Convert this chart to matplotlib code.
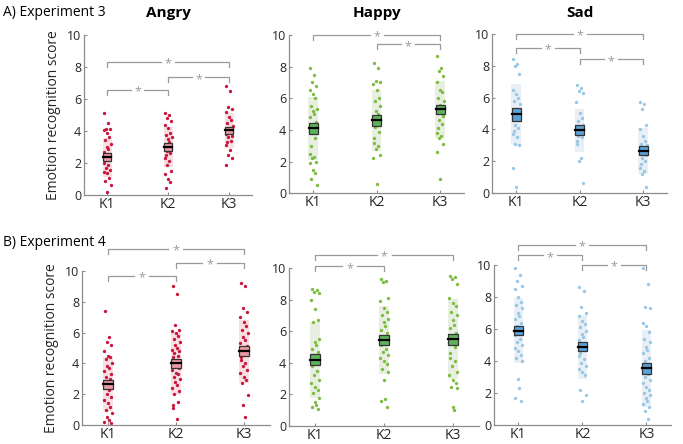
import numpy as np
import matplotlib
matplotlib.use("Agg")
import matplotlib.pyplot as plt
from matplotlib.patches import Rectangle

plt.rcParams['font.family'] = ['Open Sans', 'DejaVu Sans']

groups = ['K1', 'K2', 'K3']
emotions = ['Angry', 'Happy', 'Sad']
row_labels = ['A) Experiment 3', 'B) Experiment 4']

# ---- individual scores ----
exp3_angry_k1 = [5.1, 4.5, 4.15, 4.1, 4.05, 3.85, 3.65, 3.45, 3.2, 3.0, 2.9, 2.7, 2.55, 2.4,
                 2.3, 2.2, 2.0, 1.9, 1.7, 1.55, 1.45, 1.35, 1.05, 0.85, 0.6, 0.2]
exp3_angry_k2 = [5.15, 5.0, 4.8, 4.6, 4.4, 4.2, 3.9, 3.75, 3.6, 3.5, 3.3, 3.1, 2.9, 2.75,
                 2.6, 2.5, 2.3, 2.1, 1.9, 1.5, 1.3, 1.0, 0.8, 0.45]
exp3_angry_k3 = [6.8, 6.5, 5.5, 5.4, 5.2, 4.9, 4.7, 4.5, 4.3, 4.2, 4.0, 3.8, 3.7, 3.6,
                 3.4, 3.3, 3.1, 2.8, 2.5, 2.3, 1.9]
exp3_happy_k1 = [7.9, 7.5, 7.0, 6.8, 6.5, 6.3, 6.0, 5.5, 5.3, 5.2, 5.0, 4.8, 4.5, 4.2,
                 3.5, 3.0, 2.5, 2.3, 2.2, 2.0, 1.9, 1.5, 1.3, 0.9, 0.5]
exp3_happy_k2 = [8.2, 7.9, 7.1, 7.0, 6.9, 6.5, 6.0, 5.8, 5.5, 5.2, 5.0, 4.7, 4.5, 4.2,
                 3.9, 3.5, 3.2, 3.0, 2.8, 2.4, 2.2, 0.6]
exp3_happy_k3 = [8.7, 7.9, 7.7, 7.4, 7.0, 6.5, 6.4, 6.0, 5.8, 5.6, 5.4, 5.1, 4.9, 4.6,
                 4.4, 4.1, 3.8, 3.6, 3.5, 3.1, 2.6, 0.9]
exp3_sad_k1 = [8.4, 8.1, 8.0, 7.5, 6.5, 6.2, 6.0, 5.8, 5.6, 5.3, 5.0, 4.8, 4.6, 4.3,
               4.1, 3.9, 3.7, 3.5, 3.1, 3.0, 1.6, 0.4]
exp3_sad_k2 = [6.8, 6.6, 6.4, 6.3, 5.7, 5.0, 4.7, 4.5, 4.3, 4.1, 4.0, 3.8, 3.7, 3.6,
               3.5, 3.3, 3.1, 2.2, 2.0, 0.6]
exp3_sad_k3 = [5.7, 5.6, 5.3, 4.3, 4.0, 3.6, 3.3, 3.1, 3.0, 2.9, 2.7, 2.5, 2.4, 2.2,
               2.0, 1.8, 1.6, 1.4, 1.2, 0.4]

exp4_angry_k1 = [7.4, 5.7, 5.4, 5.2, 4.8, 4.5, 4.4, 4.3, 4.0, 3.8, 3.7, 3.5, 3.3, 3.1,
                 3.0, 2.8, 2.5, 2.3, 2.0, 1.8, 1.6, 1.4, 1.2, 1.0, 0.8, 0.5, 0.3, 0.2, 0.1]
exp4_angry_k2 = [9.0, 8.5, 6.5, 6.2, 6.1, 6.0, 5.8, 5.6, 5.4, 5.2, 5.0, 4.9, 4.8, 4.7,
                 4.5, 4.4, 4.2, 4.1, 3.9, 3.7, 3.6, 3.4, 3.3, 3.1, 3.0, 2.8, 2.6, 2.4,
                 2.2, 2.0, 1.5, 1.3, 1.1, 0.4]
exp4_angry_k3 = [9.2, 9.0, 7.6, 7.35, 7.0, 6.7, 6.4, 6.2, 6.0, 5.7, 5.5, 5.3, 5.1, 4.9,
                 4.7, 4.4, 4.2, 4.0, 3.8, 3.6, 3.4, 3.1, 2.9, 2.7, 1.95, 1.3, 0.55]
exp4_happy_k1 = [8.7, 8.6, 8.5, 8.4, 8.0, 7.4, 6.7, 6.6, 5.5, 5.3, 5.1, 4.9, 4.7, 4.5,
                 4.3, 4.0, 3.8, 3.5, 3.2, 2.9, 2.7, 2.5, 2.3, 2.1, 1.8, 1.5, 1.3, 1.2, 1.1]
exp4_happy_k2 = [9.3, 9.2, 9.1, 8.1, 7.9, 7.5, 7.2, 7.0, 6.8, 6.6, 6.3, 6.1, 5.9, 5.7,
                 5.5, 5.3, 5.1, 4.9, 4.7, 4.5, 4.3, 4.1, 3.9, 3.6, 3.4, 2.9, 1.7, 1.6, 1.2]
exp4_happy_k3 = [9.5, 9.4, 9.3, 9.0, 8.1, 7.8, 7.6, 7.2, 7.0, 6.7, 6.4, 6.2, 5.9, 5.4,
                 5.0, 4.6, 4.3, 4.1, 3.8, 3.4, 3.2, 2.9, 2.7, 2.5, 2.4, 1.2, 1.0]
exp4_sad_k1 = [9.8, 9.4, 9.0, 8.7, 8.5, 8.0, 7.7, 7.5, 7.3, 7.0, 6.8, 6.6, 6.4, 6.2,
               6.0, 5.8, 5.6, 5.4, 5.2, 5.0, 4.8, 4.6, 4.4, 4.2, 4.0, 2.9, 2.3, 1.7, 1.5]
exp4_sad_k2 = [8.6, 8.4, 7.4, 7.0, 6.8, 6.5, 6.3, 6.1, 5.9, 5.7, 5.5, 5.3, 5.1, 4.9,
               4.7, 4.5, 4.3, 4.1, 3.9, 3.7, 3.5, 3.3, 3.1, 2.2, 1.9, 1.5]
exp4_sad_k3 = [9.8, 8.8, 7.4, 7.3, 6.4, 6.2, 5.8, 5.4, 5.2, 4.9, 4.7, 4.5, 4.2, 4.0,
               3.8, 3.6, 3.4, 3.2, 3.0, 2.8, 2.6, 2.4, 2.2, 2.0, 1.9, 1.7, 1.5, 1.3,
               1.1, 0.9, 0.4]

# ---- summary values (mean box, SEM half-height, SD shading) ----
exp3_means = [[2.35, 3.0, 4.05], [4.1, 4.6, 5.3], [4.95, 3.95, 2.65]]
exp3_sem = [[0.25, 0.22, 0.22], [0.35, 0.35, 0.3], [0.4, 0.3, 0.28]]
exp3_sd = [[1.2, 1.25, 1.1], [2.0, 1.95, 1.8], [1.9, 1.35, 1.45]]
exp4_means = [[2.65, 4.0, 4.8], [4.2, 5.45, 5.5], [5.9, 4.9, 3.55]]
exp4_sem = [[0.3, 0.3, 0.3], [0.35, 0.32, 0.35], [0.3, 0.3, 0.35]]
exp4_sd = [[1.75, 2.05, 2.05], [2.4, 2.15, 2.55], [2.05, 2.0, 2.4]]

# ---- significance brackets: (from, to, height) ----
exp3_brackets = [[(1, 2, 6.55), (2, 3, 7.35), (1, 3, 8.3)],
                 [(1, 3, 10.0), (2, 3, 9.4)],
                 [(1, 3, 10.0), (1, 2, 9.1), (2, 3, 8.4)]]
exp4_brackets = [[(1, 2, 9.65), (2, 3, 10.5), (1, 3, 11.4)],
                 [(1, 2, 10.1), (1, 3, 10.8)],
                 [(1, 3, 11.25), (1, 2, 10.6), (2, 3, 10.0)]]

exp3_points = [[exp3_angry_k1, exp3_angry_k2, exp3_angry_k3],
               [exp3_happy_k1, exp3_happy_k2, exp3_happy_k3],
               [exp3_sad_k1, exp3_sad_k2, exp3_sad_k3]]
exp4_points = [[exp4_angry_k1, exp4_angry_k2, exp4_angry_k3],
               [exp4_happy_k1, exp4_happy_k2, exp4_happy_k3],
               [exp4_sad_k1, exp4_sad_k2, exp4_sad_k3]]

dot_colors = ['#c8163c', '#7cbd3f', '#98c8e6']
box_colors = ['#e99aa3', '#5db35a', '#5aa2d6']
shade_colors = ['#f8dfe1', '#e8efe2', '#e9eff4']

# axes rectangles in pixels: left, K-spacing, y of 0, y of 10
W, H = 683, 444
layout = [[(84, 61, 195, 35), (289, 63.5, 193.3, 35), (492, 63.5, 193, 34)],
          [(82, 68, 425, 271), (289, 69, 426, 268), (494, 64, 425, 265)]]

# fixed horizontal scatter so the dots do not overlap
jitter = [-0.045, 0.02, -0.015, 0.05, -0.055, 0.0, 0.035, -0.03, 0.055, -0.005,
          0.015, -0.05, 0.045, -0.02, 0.03, -0.04]

fig = plt.figure(figsize=(W / 100, H / 100), dpi=100)
axis_gray = '#8c8c8c'

rows = [(exp3_points, exp3_means, exp3_sem, exp3_sd, exp3_brackets),
        (exp4_points, exp4_means, exp4_sem, exp4_sd, exp4_brackets)]

for r, (pts, means, sems, sds, brs) in enumerate(rows):
    for c in range(3):
        left, sp, y0, y10 = layout[r][c]
        ax = fig.add_axes([left / W, 1 - y0 / H, 2.76 * sp / W, (y0 - y10) / H])
        ax.set_xlim(0.62, 3.38)
        ax.set_ylim(0, 10)
        for g in range(3):
            vals = pts[c][g]
            xs = [g + 1 + jitter[i % len(jitter)] for i in range(len(vals))]
            ax.add_patch(Rectangle((g + 1 - 0.075, means[c][g] - sds[c][g]), 0.15,
                                   2 * sds[c][g], facecolor=shade_colors[c],
                                   edgecolor='none', zorder=1))
            ax.plot(xs, vals, 'o', ms=2.4, color=dot_colors[c], mec='none', zorder=2)
            ax.add_patch(Rectangle((g + 1 - 0.07, means[c][g] - sems[c][g]), 0.14,
                                   2 * sems[c][g], facecolor=box_colors[c],
                                   edgecolor='#333333', lw=0.9, zorder=3))
            ax.plot([g + 1 - 0.07, g + 1 + 0.07], [means[c][g]] * 2,
                    color='black', lw=1.6, zorder=4)
        for a, b, h in brs[c]:
            mid = (a + b) / 2
            kw = dict(color='#9a9a9a', lw=0.9, clip_on=False)
            ax.plot([a, a, mid - 0.11], [h - 0.3, h, h], **kw)
            ax.plot([mid + 0.11, b, b], [h, h, h - 0.3], **kw)
            ax.text(mid, h - 0.12, '*', ha='center', va='center', fontsize=9,
                    color='#9a9a9a', clip_on=False)
        for s in ['top', 'right']:
            ax.spines[s].set_visible(False)
        for s in ['left', 'bottom']:
            ax.spines[s].set_color(axis_gray)
            ax.spines[s].set_linewidth(0.9)
        ax.set_xticks([1, 2, 3])
        ax.set_xticklabels(groups, fontsize=10)
        ax.set_yticks(range(0, 11, 2))
        ax.tick_params(axis='both', direction='in', length=2.5, color=axis_gray,
                       labelcolor='#262626')
        ax.tick_params(axis='x', pad=1.5)
        ax.tick_params(axis='y', pad=2, labelsize=9)
        if c == 0:
            ax.set_ylabel('Emotion recognition score', fontsize=10, labelpad=4,
                          color='#262626')
        if r == 0:
            fig.text((left + 1.38 * sp) / W, 1 - 13 / H, emotions[c], ha='center',
                     va='center', fontsize=11, fontweight='bold')
    fig.text(3 / W, 1 - (13 if r == 0 else 242) / H, row_labels[r], ha='left',
             va='center', fontsize=10)

fig.savefig('out.png', dpi=100)
